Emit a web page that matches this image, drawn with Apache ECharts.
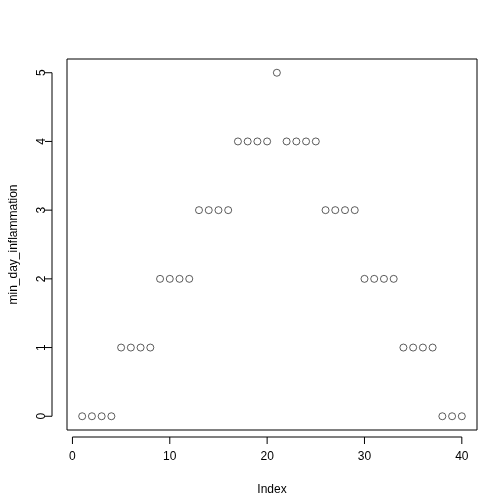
<!DOCTYPE html>
<html>
<head>
<meta charset="utf-8">
<script src="https://cdn.jsdelivr.net/npm/echarts@6/dist/echarts.min.js"></script>
<style>html,body{margin:0;padding:0;background:#fff}#c{width:504px;height:504px}</style>
</head>
<body>
<div id="c"></div>
<script>
const minDayInflammation = [0,0,0,0,1,1,1,1,2,2,2,2,3,3,3,3,4,4,4,4,5,4,4,4,4,3,3,3,3,2,2,2,2,1,1,1,1,0,0,0];
const xTicks = [0,10,20,30,40];
const yTicks = [0,1,2,3,4,5];
const points = minDayInflammation.map((v, i) => [i + 1, v]);
const font = 'Liberation Sans, Arial, sans-serif';

const chart = echarts.init(document.getElementById('c'));
chart.setOption({
  animation: false,
  grid: { left: 59, right: 27, top: 59, bottom: 74, show: true, borderColor: '#000', borderWidth: 1 },
  xAxis: {
    type: 'value', min: -0.56, max: 41.56, offset: 7,
    splitLine: { show: false }, axisLine: { show: false }, axisTick: { show: false },
    axisLabel: { customValues: xTicks, color: '#000', fontSize: 12, fontFamily: font, margin: 14 },
    name: 'Index', nameLocation: 'middle', nameGap: 47,
    nameTextStyle: { color: '#000', fontSize: 12, fontFamily: font }
  },
  yAxis: {
    type: 'value', min: -0.2, max: 5.2, offset: 7,
    splitLine: { show: false }, axisLine: { show: false }, axisTick: { show: false },
    axisLabel: { customValues: yTicks, color: '#000', fontSize: 12, fontFamily: font, rotate: 90, margin: 12 },
    name: 'min_day_inflammation', nameLocation: 'middle', nameGap: 40,
    nameTextStyle: { color: '#000', fontSize: 12, fontFamily: font }
  },
  series: [{
    type: 'scatter', data: points, symbol: 'circle', symbolSize: 7,
    itemStyle: { color: 'rgba(0,0,0,0)', borderColor: '#000', borderWidth: 0.8 }
  }]
});

// axis lines and ticks drawn outside the box, as in base R
const bottomY = 504 - 74 + 7, leftX = 59 - 7, tickLen = 7;
const line = (x1, y1, x2, y2) => ({ type: 'line', shape: { x1, y1, x2, y2 }, style: { stroke: '#000', lineWidth: 1 } });
const g = [];
const xs = xTicks.map(v => chart.convertToPixel({ xAxisIndex: 0 }, v));
const ys = yTicks.map(v => chart.convertToPixel({ yAxisIndex: 0 }, v));
g.push(line(xs[0], bottomY, xs[xs.length - 1], bottomY));
xs.forEach(x => g.push(line(x, bottomY, x, bottomY + tickLen)));
g.push(line(leftX, ys[0], leftX, ys[ys.length - 1]));
ys.forEach(y => g.push(line(leftX, y, leftX - tickLen, y)));
chart.setOption({ graphic: g });
</script>
</body>
</html>
